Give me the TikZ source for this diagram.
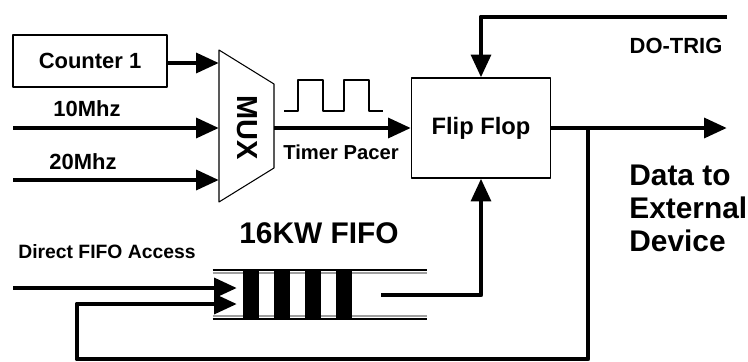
\documentclass[tikz,border=0pt]{standalone}
\usepackage{fontspec}
\setmainfont{Liberation Sans}
\usetikzlibrary{arrows.meta, positioning}

\begin{document}
\begin{tikzpicture}[
  x=0.02cm, y=-0.02cm,
  line join=round,
  every node/.style={align=center, inner sep=0pt},
  sig/.style={line width=2.8pt, -{Triangle[length=13pt, width=11pt]}},
  wire/.style={line width=2.8pt},
  blockbox/.style={draw, line width=0.6pt, font=\bfseries\fontsize{#1}{#1}\selectfont},
  lbl/.style={font=\bfseries\fontsize{#1}{#1}\selectfont},
  pipeline/.style={line width=1.1pt},
  pipeshade/.style={line width=1pt, draw=gray!75},
]

\useasboundingbox (0,0) rectangle (748,362);

%% Multiplexer corners and inputs
\coordinate (muxTL) at (219,50);
\coordinate (muxBL) at (219,202);
\coordinate (muxTR) at (274,84);
\coordinate (muxBR) at (274,168);
\coordinate (in1) at (219,63);
\coordinate (in2) at (219,128);
\coordinate (in3) at (219,180);
\coordinate (src2) at (13,128);
\coordinate (src3) at (13,180);
\coordinate (muxout) at (274,128);

%% Blocks
\node[blockbox=12.5, minimum width=3.08cm, minimum height=1.04cm] (cnt) at (90,61) {Counter 1};
\draw[line width=0.6pt] (muxTL) -- (muxTR) -- (muxBR) -- (muxBL) -- cycle;
\node[lbl=16.5, rotate=-90] (mux) at (247,128) {MUX};
\node[blockbox=13.5, minimum width=2.78cm, minimum height=2.0cm] (ff) at (481,128) {Flip Flop};

%% Clock inputs
\draw[sig] (cnt.east |- in1) -- (in1);
\draw[sig] (src2) -- (in2);
\draw[sig] (src3) -- (in3);
\node[lbl=12.5] (l10) at (87,109) {10Mhz};
\node[lbl=12.5] (l20) at (83,162) {20Mhz};

%% Timer pacer
\draw[sig] (muxout) -- (ff.west);
\node[lbl=11.5] (pacer) at (341,152) {Timer Pacer};
\draw[line width=0.8pt] (284,111) -- ++(14,0) -- ++(0,-31) -- ++(25,0) -- ++(0,31)
  -- ++(21,0) -- ++(0,-31) -- ++(25,0) -- ++(0,31) -- ++(14,0);

%% Trigger and output
\coordinate (trig) at (727,17);
\coordinate (out) at (727,128);
\coordinate (br) at (588,128);
\draw[sig] (trig) -| (ff.north);
\node[lbl=12.5] (dotrig) at (676,46) {DO-TRIG};
\draw[sig] (ff.east) -- (out);
\node[lbl=17, anchor=north west, align=left, font=\bfseries\fontsize{17}{18.8}\selectfont]
  (dest) at (629,165) {Data to\\External\\Device};

%% FIFO
\node[minimum width=4.28cm, minimum height=0.98cm] (fifo) at (320,294.5) {};
\node[lbl=17] (fifolbl) at (319,233) {16KW FIFO};
\draw[pipeline] (fifo.north west) -- (fifo.north east);
\draw[pipeshade] ([yshift=-0.06cm]fifo.north west) -- ([yshift=-0.06cm]fifo.north east);
\draw[pipeline] (fifo.south west) -- (fifo.south east);
\draw[pipeshade] ([yshift=0.06cm]fifo.south west) -- ([yshift=0.06cm]fifo.south east);
\foreach \x in {243,274,305,336}{
  \fill (\x,270) rectangle ++(16,49);
}

%% FIFO inputs
\coordinate (dir) at (13,288);
\coordinate (fin1) at (237,288);
\coordinate (fin2) at (237,304);
\coordinate (loopB) at (588,359);
\coordinate (loopL) at (77,359);
\draw[sig] (dir) -- (fin1);
\node[lbl=11, anchor=west] (dirlbl) at (18,252) {Direct FIFO Access};
\draw[sig] (br) -- (loopB) -- (loopL) |- (fin2);

%% FIFO output
\coordinate (fout) at (381,295);
\draw[sig] (fout) -| (ff.south);

\end{tikzpicture}
\end{document}
